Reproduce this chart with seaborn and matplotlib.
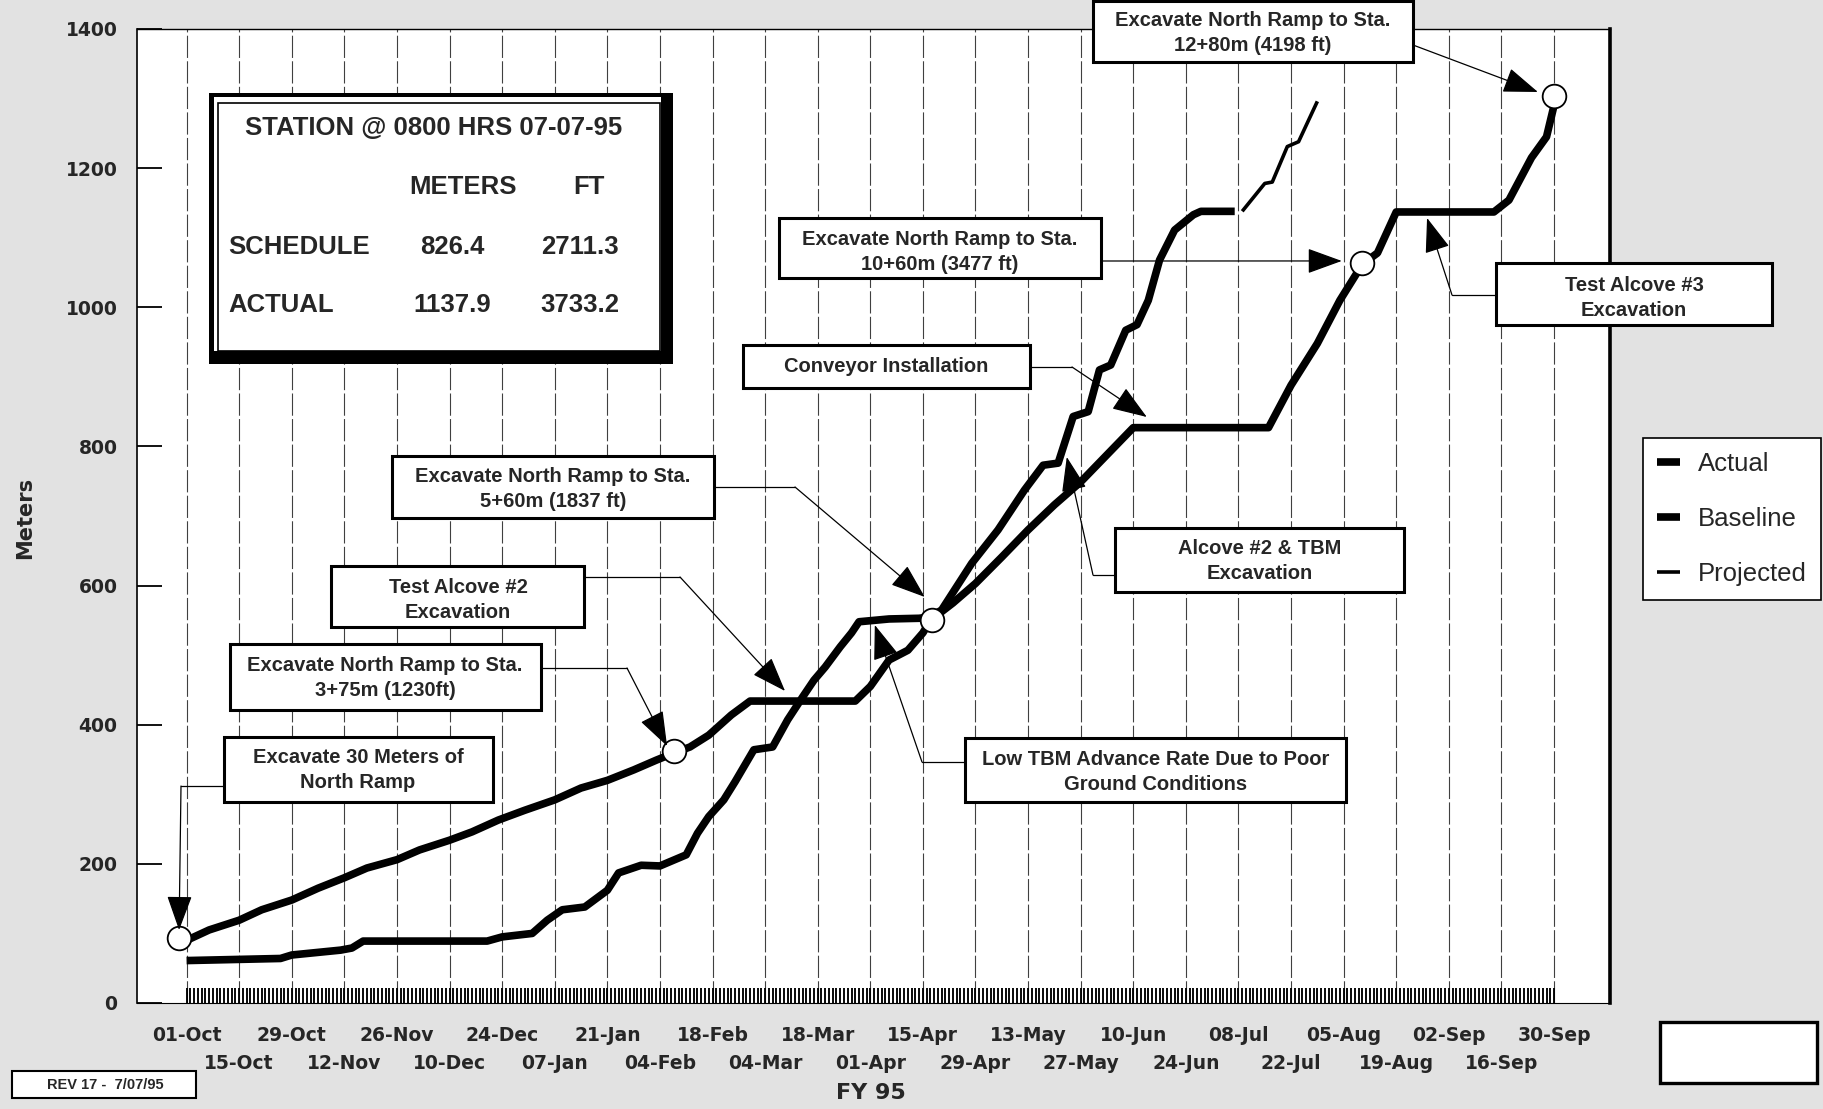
import matplotlib
matplotlib.use("Agg")
import matplotlib.pyplot as plt
import seaborn as sns
from matplotlib.patches import Rectangle
from matplotlib.lines import Line2D

# ---------------- data ----------------
tick_labels = ['01-Oct', '15-Oct', '29-Oct', '12-Nov', '26-Nov', '10-Dec', '24-Dec',
               '07-Jan', '21-Jan', '04-Feb', '18-Feb', '04-Mar', '18-Mar', '01-Apr',
               '15-Apr', '29-Apr', '13-May', '27-May', '10-Jun', '24-Jun', '08-Jul',
               '22-Jul', '05-Aug', '19-Aug', '02-Sep', '16-Sep', '30-Sep']
tick_days = [0, 14, 28, 42, 56, 70, 84, 98, 112, 126, 140, 154, 168, 182,
             196, 210, 224, 238, 252, 266, 280, 294, 308, 322, 336, 350, 364]
y_ticks = [0, 200, 400, 600, 800, 1000, 1200, 1400]

# days since 01-Oct-94, meters
actual_days = [0, 25, 28, 41, 44, 47, 80, 84, 92, 96, 100, 106, 112, 115, 121, 126,
               133, 136, 139, 143, 146, 151, 156, 160, 164, 167, 170, 174, 177, 179,
               187, 195, 198, 201, 209, 216, 223, 228, 232, 236, 240, 243, 246, 250,
               253, 256, 259, 263, 268, 270, 279]
actual_m = [61, 64, 69, 76, 79, 89, 89, 95, 100, 119, 134, 138, 162, 187, 198, 197,
            213, 244, 268, 292, 318, 364, 368, 407, 440, 464, 483, 512, 532, 548,
            552, 553, 555, 565, 632, 680, 737, 773, 776, 843, 850, 910, 917, 967,
            975, 1010, 1068, 1111, 1133, 1137.9, 1137.9]

baseline_days = [0, 6, 14, 20, 28, 35, 42, 48, 56, 62, 70, 76, 83, 90, 98, 105, 112,
                 119, 125, 130, 134, 139, 145, 150, 178, 182, 187, 192, 196, 198, 204,
                 210, 217, 224, 231, 238, 245, 252, 288, 294, 301, 307, 313, 317, 322,
                 348, 352, 358, 362, 364]
baseline_m = [90, 105, 119, 134, 148, 165, 180, 194, 206, 220, 234, 246, 263, 277,
              292, 309, 320, 335, 349, 360, 368, 385, 414, 434, 434, 455, 493, 507,
              532, 550, 575, 603, 641, 680, 716, 749, 788, 827, 827, 888, 948, 1010,
              1062, 1078, 1137, 1137, 1154, 1215, 1245, 1290]

projected_days = [281, 287, 289, 293, 296, 301]
projected_m = [1138, 1178, 1180, 1231, 1238, 1296]

milestone_days = [-2.1, 129.7, 198.3, 313, 364]
milestone_m = [93, 362, 550.5, 1063, 1303]

station_title = 'STATION @ 0800 HRS 07-07-95'
station_cols = ['METERS', 'FT']
station_rows = ['SCHEDULE', 'ACTUAL']
station_meters = ['826.4', '1137.9']
station_feet = ['2711.3', '3733.2']

# callouts: text, box (x0,y0,x1,y1 px from top-left), text centre px,
# connector points px, arrow tip (day, meters)
callouts = [
    ('Excavate North Ramp to Sta.\n12+80m (4198 ft)', (1093, 1, 1413, 62), (1253, 33),
     [(1413, 45)], (359.7, 1309.5)),
    ('Excavate North Ramp to Sta.\n10+60m (3477 ft)', (779, 218, 1101, 278), (940, 252),
     [(1101, 261)], (307.5, 1066.6)),
    ('Test Alcove #3\nExcavation', (1496, 263, 1772, 325), (1634, 298),
     [(1496, 295), (1452, 295)], (330.2, 1128.4)),
    ('Conveyor Installation', (743, 345, 1030, 388), (886, 367),
     [(1030, 367), (1072, 367)], (255.6, 842.3)),
    ('Alcove #2 & TBM\nExcavation', (1115, 528, 1404, 592), (1260, 561),
     [(1115, 575), (1093, 575)], (234.3, 784.8)),
    ('Excavate North Ramp to Sta.\n5+60m (1837 ft)', (392, 456, 714, 518), (553, 489),
     [(714, 487), (795, 487)], (196.5, 583.6)),
    ('Test Alcove #2\nExcavation', (331, 566, 584, 627), (458, 600),
     [(584, 577), (680, 577)], (159.3, 448.5)),
    ('Excavate North Ramp to Sta.\n3+75m (1230ft)', (230, 644, 541, 710), (385, 678),
     [(541, 668), (627, 668)], (127.9, 369.4)),
    ('Excavate 30 Meters of\nNorth Ramp', (224, 737, 493, 802), (358, 770),
     [(224, 786), (181, 786)], (-2.0, 104.9)),
    ('Low TBM Advance Rate Due to Poor\nGround Conditions', (965, 738, 1346, 802), (1156, 772),
     [(965, 762), (922, 762)], (183.2, 543.3)),
]

# ---------------- figure ----------------
W, H = 1824, 1109
sns.set_style("white")
plt.rcParams['font.family'] = ['Liberation Sans', 'DejaVu Sans']

fig = plt.figure(figsize=(W / 100, H / 100), dpi=100, facecolor='#e2e2e2')


def fx(x):
    return x / W


def fy(y):
    return 1 - y / H


ax = fig.add_axes([fx(137), fy(1003), (1610 - 137) / W, (1003 - 29) / H])
ax.set_facecolor('white')

sns.lineplot(x=actual_days, y=actual_m, ax=ax, color='black', linewidth=5.5,
             label='Actual', estimator=None, sort=False,
             solid_joinstyle='round', solid_capstyle='butt', zorder=3)
sns.lineplot(x=baseline_days, y=baseline_m, ax=ax, color='black', linewidth=5.5,
             label='Baseline', estimator=None, sort=False,
             solid_joinstyle='round', solid_capstyle='butt', zorder=3)
sns.lineplot(x=projected_days, y=projected_m, ax=ax, color='black', linewidth=2.6,
             label='Projected', estimator=None, sort=False,
             solid_joinstyle='round', solid_capstyle='butt', zorder=3)
sns.scatterplot(x=milestone_days, y=milestone_m, ax=ax, s=290, color='white',
                edgecolor='black', linewidth=1.3, zorder=6, legend=False)

ax.set_xlim(-13.2, 378.9)
ax.set_ylim(0, 1400)

tick_font = dict(fontfamily='DejaVu Sans', fontweight='bold', fontsize=13.5)

# upper row of date labels on the main axis, lower row on a secondary axis
ax.set_xticks(tick_days)
ax.set_xticklabels([lab if i % 2 == 0 else '' for i, lab in enumerate(tick_labels)],
                   **tick_font)
ax.set_xticks(range(tick_days[0], tick_days[-1] + 1), minor=True)
ax.tick_params(axis='x', which='both', direction='in', length=11, width=1.35,
               color='black', pad=16.5, bottom=True, top=False)

sec = ax.secondary_xaxis('bottom')
sec.set_xticks(tick_days[1::2])
sec.set_xticklabels(tick_labels[1::2], **tick_font)
sec.tick_params(axis='x', which='both', length=0, pad=36.5)
sec.spines['bottom'].set_visible(False)

ax.set_yticks(y_ticks)
ax.set_yticklabels([str(v) for v in y_ticks], **tick_font)
ax.tick_params(axis='y', direction='in', length=18, width=1.3, pad=14,
               left=True, color='black')

ax.grid(True, axis='x', which='major', color='#404040', linewidth=0.8,
        linestyle=(0, (20, 3)))
ax.grid(False, axis='y')
ax.set_axisbelow(True)

for side, lw in [('left', 1.2), ('top', 1.0), ('right', 2.6), ('bottom', 0.8)]:
    ax.spines[side].set_visible(True)
    ax.spines[side].set_color('black')
    ax.spines[side].set_linewidth(lw)

ax.set_xlabel('FY 95', fontfamily='DejaVu Sans', fontweight='bold', fontsize=16)
ax.xaxis.label.set_va('center')
ax.xaxis.set_label_coords(0.498, (1003 - 1093) / 974)
ax.set_ylabel('Meters', fontfamily='DejaVu Sans', fontweight='bold', fontsize=15)
ax.yaxis.label.set_va('center')
ax.yaxis.set_label_coords((25 - 137) / 1473, 0.498)

handles, labels = ax.get_legend_handles_labels()
leg = ax.legend(handles, labels, loc='upper left', bbox_to_anchor=(fx(1643), fy(438)),
                bbox_transform=fig.transFigure, borderaxespad=0, frameon=True,
                fancybox=False, edgecolor='black', framealpha=1, fontsize=18.5,
                handlelength=0.9, handletextpad=0.7, labelspacing=1.2, borderpad=0.55)
leg.get_frame().set_linewidth(1.2)

# ---------------- station box ----------------
fig.add_artist(Rectangle((fx(209), fy(364)), (673 - 209) / W, (364 - 93) / H,
                         transform=fig.transFigure, facecolor='black', edgecolor='none', zorder=5))
fig.add_artist(Rectangle((fx(214), fy(351)), (661 - 214) / W, (351 - 97) / H,
                         transform=fig.transFigure, facecolor='white', edgecolor='none', zorder=5))
fig.add_artist(Rectangle((fx(218), fy(351)), (660 - 218) / W, (351 - 103) / H,
                         transform=fig.transFigure, facecolor='none', edgecolor='black',
                         linewidth=1.2, zorder=5))
tk = dict(fontweight='bold', fontsize=18.5, va='center', zorder=6)
fig.text(fx(434), fy(128), station_title, ha='center', **tk)
fig.text(fx(463), fy(187), station_cols[0], ha='center', **tk)
fig.text(fx(589), fy(187), station_cols[1], ha='center', **tk)
for row, ypx in zip(range(2), [247, 305]):
    fig.text(fx(228), fy(ypx), station_rows[row], ha='left', **tk)
    fig.text(fx(452), fy(ypx), station_meters[row], ha='center', **tk)
    fig.text(fx(580), fy(ypx), station_feet[row], ha='center', **tk)

# ---------------- callouts ----------------
for text, (x0, y0, x1, y1), (cx, cy), pts, tip in callouts:
    fig.add_artist(Rectangle((fx(x0), fy(y1)), (x1 - x0) / W, (y1 - y0) / H,
                             transform=fig.transFigure, facecolor='white',
                             edgecolor='black', linewidth=2.2, zorder=5))
    fig.text(fx(cx), fy(cy), text, ha='center', va='center', fontsize=14.5,
             fontweight='bold', linespacing=1.38, zorder=6)
    if len(pts) > 1:
        fig.add_artist(Line2D([fx(p[0]) for p in pts], [fy(p[1]) for p in pts],
                              transform=fig.transFigure, color='black', linewidth=0.9,
                              zorder=4))
    ex, ey = pts[-1]
    ax.annotate('', xy=tip, xycoords='data', xytext=(ex, H - ey),
                textcoords='figure pixels', annotation_clip=False,
                arrowprops=dict(arrowstyle='-|>,head_length=1.1,head_width=0.4',
                                mutation_scale=20, color='black', linewidth=0.9,
                                shrinkA=0, shrinkB=0), zorder=7)

# ---------------- small boxes ----------------
fig.add_artist(Rectangle((fx(12), fy(1098)), (196 - 12) / W, (1098 - 1071) / H,
                         transform=fig.transFigure, facecolor='white', edgecolor='black',
                         linewidth=1.5, zorder=5))
fig.text(fx(105), fy(1085), 'REV 17 -  7/07/95', ha='center', va='center',
         fontsize=10.5, fontweight='bold', zorder=6)
fig.add_artist(Rectangle((fx(1660), fy(1083)), (1817 - 1660) / W, (1083 - 1022) / H,
                         transform=fig.transFigure, facecolor='white', edgecolor='black',
                         linewidth=2.4, zorder=5))

fig.savefig('out.png', dpi=100, facecolor=fig.get_facecolor())
